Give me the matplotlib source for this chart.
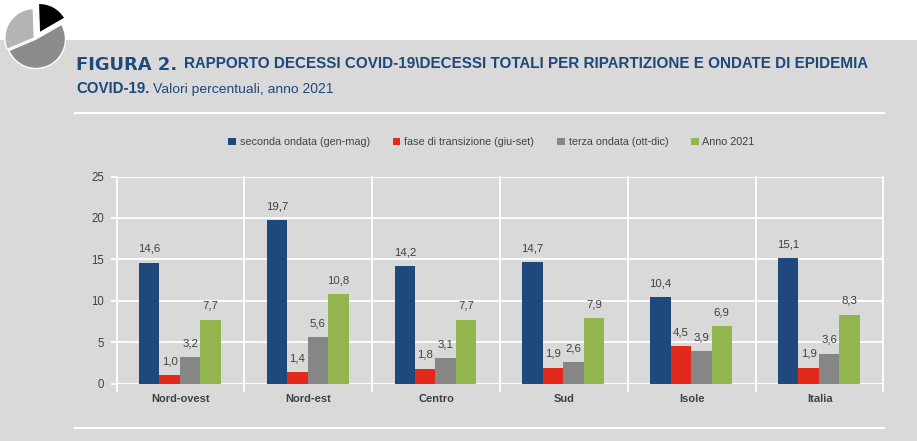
import matplotlib
matplotlib.use('Agg')
import matplotlib.pyplot as plt
import numpy as np

plt.rcParams['font.family'] = ['Liberation Sans', 'DejaVu Sans']
plt.rcParams['text.hinting'] = 'no_autohint'

W, H = 917, 441

regions = ['Nord-ovest', 'Nord-est', 'Centro', 'Sud', 'Isole', 'Italia']
seconda = [14.6, 19.7, 14.2, 14.7, 10.4, 15.1]
transizione = [1.0, 1.4, 1.8, 1.9, 4.5, 1.9]
terza = [3.2, 5.6, 3.1, 2.6, 3.9, 3.6]
anno = [7.7, 10.8, 7.7, 7.9, 6.9, 8.3]

series_names = ['seconda ondata (gen-mag)', 'fase di transizione (giu-set)',
                'terza ondata (ott-dic)', 'Anno 2021']
colors = ['#1f497d', '#e3291b', '#868686', '#92b54e']
yticks = [0, 5, 10, 15, 20, 25]
logo_shares = [62, 187, 111]

BLUE = '#1f497d'
PANEL = '#d9d9d9'
TEXT = '#404040'

fig = plt.figure(figsize=(W / 100, H / 100), dpi=100, facecolor='white')

# grey background panel under the heading
bg = fig.add_axes([0, 0, 1, 1])
bg.set_xlim(0, W)
bg.set_ylim(H, 0)
bg.axis('off')
bg.fill_between([0, W], 40, H, color=PANEL, lw=0)
bg.plot([75, 884], [113, 113], color='white', lw=1.5)
bg.plot([75, 884], [428, 428], color='white', lw=1.5)

# heading
bg.text(76, 64.5, 'FIGURA 2.', family=['DejaVu Sans'], weight='bold', fontsize=12.9,
        color=BLUE, va='center', ha='left')
bg.text(184, 64.5, 'RAPPORTO DECESSI COVID-19\\DECESSI TOTALI PER RIPARTIZIONE E ONDATE DI EPIDEMIA',
        weight='bold', fontsize=10.98, color=BLUE, va='center', ha='left')
bg.text(76, 89, 'COVID-19.', weight='bold', fontsize=10.8, color=BLUE, va='center', ha='left')
bg.text(153, 89, 'Valori percentuali, anno 2021', fontsize=10.1, color=BLUE, va='center', ha='left')

# small pie emblem in the corner
logo = fig.add_axes([0, 1 - 72 / H, 72 / W, 72 / H])
logo.pie(logo_shares, colors=['black', '#8c8c8c', '#b4b4b4'], startangle=92, counterclock=False,
         explode=[7, 0, 2], radius=29.5, center=(36, 33),
         wedgeprops={'linewidth': 1.0, 'edgecolor': 'white'})
logo.set_xlim(0, 72)
logo.set_ylim(0, 72)

# bar chart
ax = fig.add_axes([116.5 / W, 1 - 383.5 / H, (883.5 - 116.5) / W, (383.5 - 176.5) / H])
ax.set_facecolor('none')
for s in ax.spines.values():
    s.set_visible(False)

n = len(regions)
x = np.arange(n)
bar_w = 0.16
all_series = [seconda, transizione, terza, anno]

ax.set_xlim(-0.5, n - 0.5)
ax.set_ylim(0, 25)
ax.set_axisbelow(True)
ax.set_yticks(yticks)
ax.yaxis.grid(True, color='white', lw=1.3)
for b in np.arange(n + 1) - 0.5:
    ax.plot([b, b], [-0.9, 25], color='white', lw=1.3, clip_on=False, zorder=0.5)
ax.tick_params(axis='y', length=4, color='white', width=1.3, labelsize=8.3,
               labelcolor=TEXT, pad=5)
ax.set_xticks(x)
ax.set_xticklabels(regions, fontsize=8.0, fontweight='bold', color=TEXT, va='baseline')
ax.tick_params(axis='x', length=0, pad=13.5)

for i, (vals, col, name) in enumerate(zip(all_series, colors, series_names)):
    pos = x + (i - 1.5) * bar_w - 0.005
    ax.bar(pos, vals, bar_w, color=col, label=name, zorder=2)
    for px, v in zip(pos, vals):
        ax.text(px, v + 1.0, f'{v:.1f}'.replace('.', ','), ha='center', va='bottom',
                fontsize=8.2, color=TEXT, zorder=3)

ax.legend(loc='upper center', bbox_to_anchor=(0.489, 1.237), ncol=4, frameon=False, fontsize=7.85,
          labelcolor=TEXT, handlelength=0.7, handleheight=0.7, handletextpad=0.35, columnspacing=2.1)

fig.savefig('out.png', dpi=100, facecolor='white')
